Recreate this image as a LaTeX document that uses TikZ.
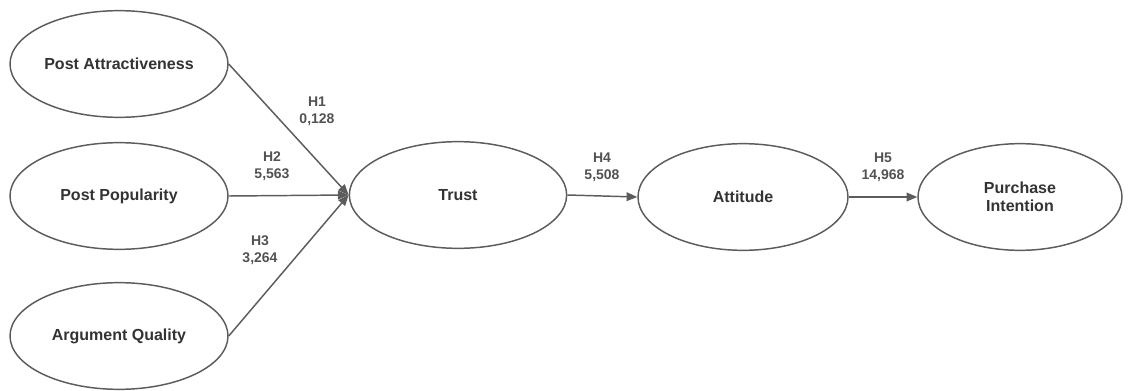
\documentclass[tikz,border=0pt]{standalone}
\usepackage{fontspec}
\setmainfont{Liberation Sans}
\usetikzlibrary{arrows.meta, positioning, shapes.geometric}
\definecolor{linegray}{HTML}{5C5C5C}
\definecolor{textgray}{HTML}{333333}

\begin{document}
\begin{tikzpicture}[x=0.75pt, y=0.75pt,
  construct/.style={ellipse, draw=linegray, line width=1.1pt, fill=white, minimum width=#1, minimum height=80pt, inner sep=0pt, font=\fontsize{12}{13.5}\selectfont\bfseries, text=textgray, align=center},
  hyp/.style={font=\fontsize{10.5}{12.75}\selectfont\bfseries, text=textgray!85, align=center, inner sep=0pt},
  arr/.style={-{Triangle[length=8pt, width=6.5pt]}, line width=1.1pt, draw=linegray}
]
\useasboundingbox (0,0) rectangle (1139,390);

% Predictors
\node[construct=163.5pt] (pa) at (119, 326) {Post Attractiveness};
\node[construct=163.5pt] (pp) at (119, 194) {Post Popularity};
\node[construct=163.5pt] (aq) at (119, 54) {Argument Quality};

% Mediators and outcome
\node[construct=163pt] (trust) at (458, 195) {Trust};
\node[construct=157.5pt] (att) at (743, 193) {Attitude};
\node[construct=153pt] (pi) at (1020, 193) {Purchase\\Intention};

% Paths
\draw[arr] (pa.east) -- (trust.west);
\draw[arr] (pp.east) -- (trust.west);
\draw[arr] (aq.east) -- (trust.west);
\draw[arr] (trust.east) -- (att.west);
\draw[arr] (att.east) -- (pi.west);

% Hypothesis labels
\node[hyp] (h1) at (317, 278.5) {H1\\0,128};
\node[hyp] (h2) at (272, 224) {H2\\5,563};
\node[hyp] (h3) at (260, 140) {H3\\3,264};
\node[hyp] (h4) at (602, 223) {H4\\5,508};
\node[hyp] (h5) at (883, 223) {H5\\14,968};
\end{tikzpicture}
\end{document}
